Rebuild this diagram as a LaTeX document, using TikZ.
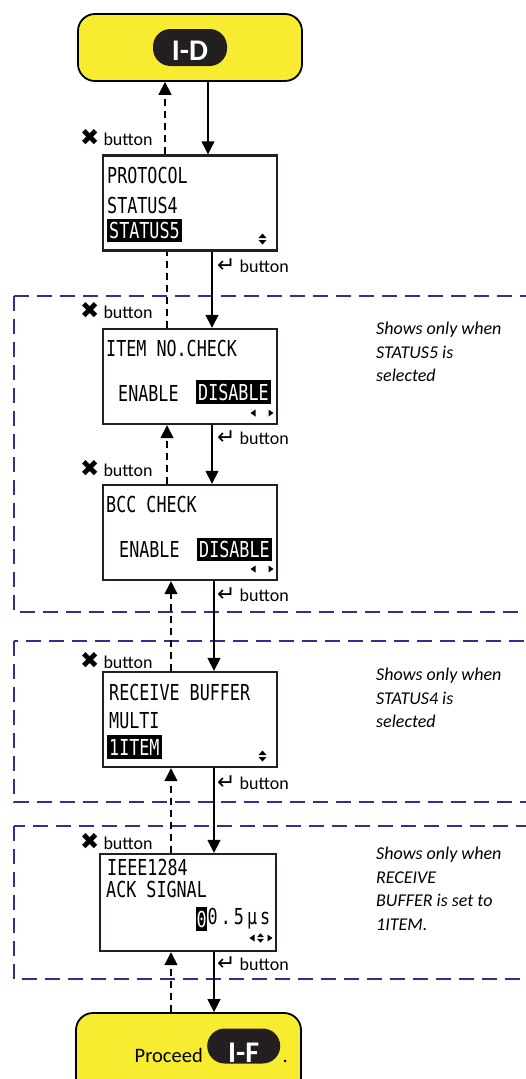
\documentclass[tikz,border=0pt]{standalone}
\usepackage{fontspec}
\setmainfont{Carlito}
\newfontfamily\symfont{DejaVu Sans}
\newfontfamily\lcdfont[FakeStretch=0.76]{DejaVu Sans Mono}
\usetikzlibrary{arrows.meta}
\definecolor{signyellow}{RGB}{247,236,48}
\definecolor{regionblue}{RGB}{46,49,146}
\definecolor{inkblack}{RGB}{35,31,32}

\begin{document}
\begin{tikzpicture}[x=1pt, y=-1pt,
    yellowbox/.style={draw=black, line width=1.8pt, fill=signyellow, rounded corners=17pt},
    tag/.style={fill=inkblack, text=white, rounded corners=17.5pt, minimum width=74pt, inner xsep=0pt, inner ysep=1.5pt, font=\fontsize{30}{30}\bfseries\selectfont},
    screen/.style={draw=inkblack, line width=2.4pt, fill=white, minimum width=174pt, minimum height=95pt, inner sep=0pt},
    lcd/.style={anchor=west, inner sep=0pt, font=\lcdfont\fontsize{22}{22}\selectfont},
    lcdsel/.style={lcd, fill=black, text=white, inner xsep=2pt, inner ysep=3.5pt},
    go/.style={line width=1.5pt, -{Triangle[length=13pt,width=13pt]}},
    back/.style={line width=1.5pt, dash pattern=on 7pt off 5pt, -{Triangle[length=13pt,width=13pt]}},
    backplain/.style={line width=1.5pt, dash pattern=on 7pt off 5pt},
    region/.style={draw=regionblue, line width=2pt, dash pattern=on 15pt off 8pt},
    btn/.style={anchor=west, inner sep=0pt, font=\fontsize{18}{18}\selectfont},
    note/.style={anchor=north west, inner sep=0pt, align=left, font=\fontsize{18}{23.5}\itshape\selectfont},
    updown/.pic={\fill (-4,-1) -- (4,-1) -- (0,-5.5) -- cycle;
                 \fill (-4,1) -- (4,1) -- (0,5.5) -- cycle;},
    leftarr/.pic={\fill (2.5,-3.5) -- (2.5,3.5) -- (-2.5,0) -- cycle;},
    rightarr/.pic={\fill (-2.5,-3.5) -- (-2.5,3.5) -- (2.5,0) -- cycle;}]

\useasboundingbox (0,0) rectangle (526,1079);

% optional blocks
\draw[region] (14,296) rectangle (545,612);
\draw[region] (14,641) rectangle (545,802);
\draw[region] (14,826) rectangle (545,979);

\node[note] (note5) at (376,322) {Shows only when\\STATUS5 is\\selected};
\node[note] (note4) at (376,668) {Shows only when\\STATUS4 is\\selected};
\node[note] (noteitem) at (376,847) {Shows only when\\RECEIVE\\BUFFER is set to\\1ITEM.};

% start and end
\node[yellowbox, minimum width=224pt, minimum height=67pt] (idbox) at (190,47.5) {};
\node[tag, text height=29.5pt, text depth=4.5pt, anchor=base] (idtag) at (190,60) {I-D};

\node[yellowbox, minimum width=225pt, minimum height=120pt] (endbox) at (188.5,1073) {};
\node[anchor=base east, inner sep=0pt, font=\fontsize{20.5}{20}\selectfont] (proceed) at (203,1062) {Proceed};
\node[tag, minimum width=73pt, text height=32pt, text depth=0pt, anchor=base west] (iftag) at (207,1062) {I-F};
\node[anchor=base west, inner sep=0pt, xshift=2pt, font=\fontsize{20.5}{20}\selectfont] (dot) at (iftag.base east) {.};

% screens
\node[screen] (proto) at (190,203) {};
\node[lcd] (protoa) at (107,175) {PROTOCOL};
\node[lcd] (protob) at (107,205) {STATUS4};
\node[lcdsel] (protoc) at (107,230.5) {STATUS5};
\pic at (262.5,239) {updown};

\node[screen] (itemchk) at (190,376.5) {};
\node[lcd] (itema) at (106,348) {ITEM NO.CHECK};
\node[lcd] (itemb) at (118,393) {ENABLE};
\node[lcdsel] (itemc) at (196,392) {DISABLE};
\pic at (253,413) {leftarr};
\pic at (271,413) {rightarr};

\node[screen] (bcc) at (190,532.5) {};
\node[lcd] (bcca) at (106,504) {BCC CHECK};
\node[lcd] (bccb) at (119,549) {ENABLE};
\node[lcdsel] (bccc) at (197,549.5) {DISABLE};
\pic at (253,569) {leftarr};
\pic at (271,569) {rightarr};

\node[screen] (rcvbuf) at (190,719.5) {};
\node[lcd] (rcva) at (109,692) {RECEIVE BUFFER};
\node[lcd] (rcvb) at (109,721) {MULTI};
\node[lcdsel] (rcvc) at (107,747) {1ITEM};
\pic at (262.5,756) {updown};

\node[screen, minimum width=176pt, minimum height=97pt] (ackbox) at (188,902.5) {};
\node[lcd] (acka) at (107,867) {IEEE1284};
\node[lcd] (ackb) at (106,889) {ACK SIGNAL};
\node[lcdsel, inner xsep=0.5pt] (ackc) at (196,919) {0};
\node[lcd, font=\lcdfont\fontsize{22}{22}\selectfont\addfontfeature{LetterSpace=14}] (ackd) at (ackc.east) {0.5μs};
\pic at (252,938) {leftarr};
\pic[scale=0.85] at (260.5,938) {updown};
\pic at (270,938) {rightarr};

% forward / back
\draw[go] ([xshift=18pt]idbox.south) -- ([xshift=18pt]proto.north);
\draw[back] ([xshift=-25pt]proto.north) -- ([xshift=-25pt]idbox.south);
\draw[go] ([xshift=22pt]proto.south) -- ([xshift=22pt]itemchk.north);
\draw[backplain] ([xshift=-23pt]itemchk.north) -- ([xshift=-23pt]proto.south);
\draw[go] ([xshift=22pt]itemchk.south) -- ([xshift=22pt]bcc.north);
\draw[back] ([xshift=-23pt]bcc.north) -- ([xshift=-23pt]itemchk.south);
\draw[go] ([xshift=24pt]bcc.south) -- ([xshift=24pt]rcvbuf.north);
\draw[back] ([xshift=-19pt]rcvbuf.north) -- ([xshift=-19pt]bcc.south);
\draw[go] ([xshift=24pt]rcvbuf.south) -- ([xshift=26pt]ackbox.north);
\draw[back] ([xshift=-17pt]ackbox.north) -- ([xshift=-19pt]rcvbuf.south);
\draw[go] ([xshift=26pt]ackbox.south) -- ([xshift=25.5pt]endbox.north);
\draw[back] ([xshift=-17.5pt]endbox.north) -- ([xshift=-17pt]ackbox.south);

% button labels
\node[btn] (xbtna) at (80,138) {{\symfont\fontsize{23}{18}\selectfont ✖}\ button};
\node[btn] (xbtnb) at (80,311) {{\symfont\fontsize{23}{18}\selectfont ✖}\ button};
\node[btn] (xbtnc) at (80,469) {{\symfont\fontsize{23}{18}\selectfont ✖}\ button};
\node[btn] (xbtnd) at (80,661) {{\symfont\fontsize{23}{18}\selectfont ✖}\ button};
\node[btn] (xbtne) at (80,842) {{\symfont\fontsize{23}{18}\selectfont ✖}\ button};
\node[btn] (okbtna) at (217,266) {{\symfont\fontsize{22}{18}\selectfont ↵}\ button};
\node[btn] (okbtnb) at (217,438) {{\symfont\fontsize{22}{18}\selectfont ↵}\ button};
\node[btn] (okbtnc) at (217,595) {{\symfont\fontsize{22}{18}\selectfont ↵}\ button};
\node[btn] (okbtnd) at (217,783) {{\symfont\fontsize{22}{18}\selectfont ↵}\ button};
\node[btn] (okbtne) at (217,964) {{\symfont\fontsize{22}{18}\selectfont ↵}\ button};
\end{tikzpicture}
\end{document}
